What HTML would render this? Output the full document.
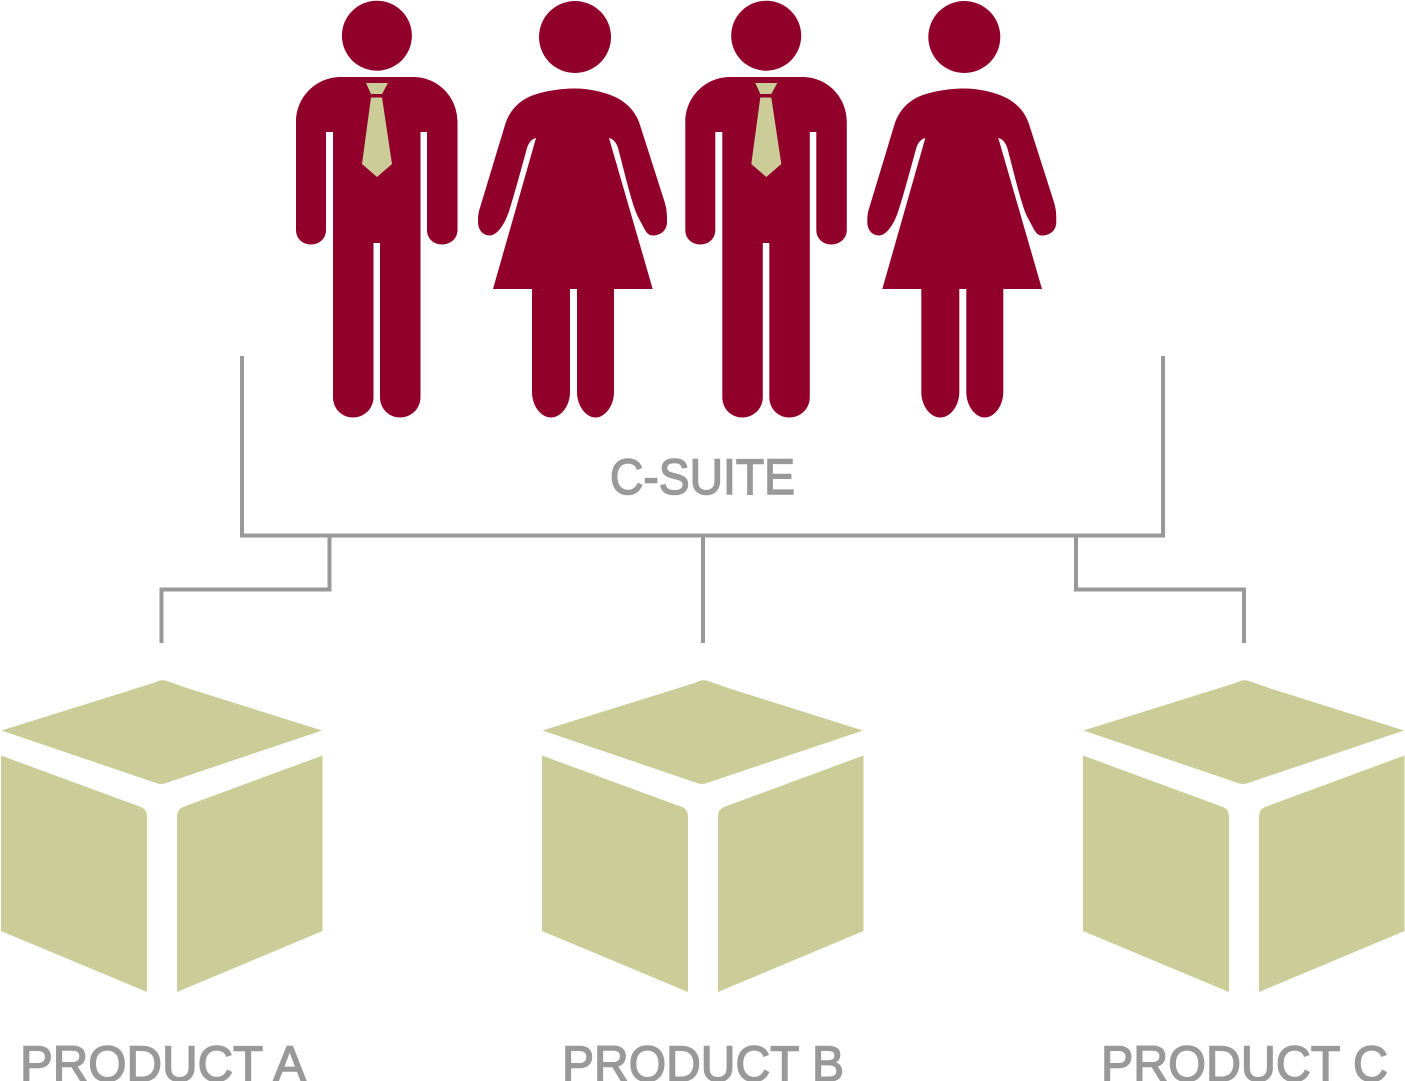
<!DOCTYPE html>
<html>
<head>
<meta charset="utf-8">
<style>
html,body{margin:0;padding:0;background:#fff;width:1405px;height:1081px;overflow:hidden}
svg{display:block}
text{font-family:"Liberation Sans",sans-serif;font-size:50px;fill:#999;stroke:#999;stroke-width:1.500px}
</style>
</head>
<body>
<svg width="1405" height="1081" viewBox="0 0 1405 1081" xmlns="http://www.w3.org/2000/svg">
<defs>
<g id="man">
<circle cx="376.900" cy="35.700" r="35"/>
<path d="M341 77H413C438 77 457.500 97 457.500 122V230C457.500 239 450 244.500 442 244.500C434 244.500 427 239 427 230V132H420.500V397C420.500 409 411 417.500 400 417.500C389 417.500 380 409 380 397V243H373.500V397C373.500 409 364 417.500 353 417.500C342 417.500 333 409 333 397V132H326V230C326 239 319 244.500 311 244.500C303 244.500 296 239 296 230V122C296 97 316 77 341 77Z"/>
</g>
<g id="tie" fill="#cccc99">
<polygon points="366,83 388,83 382,94 371,94"/>
<polygon points="371,97.500 382,97.500 392,164 377,177 362,164"/>
</g>
<g id="woman">
<circle cx="575" cy="37" r="36"/>
<path d="M575 88.500C590 88.500 603 92 613 96C627 102 636 112 640 125L664 200C667 209 667 214 667 222C667 231 660 235.500 653 235.500C646 235.500 645 229 638 217C632 205 624 170 618 148C616 142 613 139 609 138L652.700 289H614V392C614 406 605 417.500 595.500 417.500C586 417.500 577 406 577 392V289H570V392C570 406 561 417.500 551 417.500C541 417.500 532 406 532 392V289H493L536 138C532 139 529 142 527 148C521 170 515 192 510 208C505 225 497 235 490 235.500C483 235.500 478 230 478 222C478 218 478 215 479 211L505 125C509 112 517 102 531 96C541 92 558 88.500 575 88.500Z"/>
</g>
<g id="cube" fill="#cccc99">
<path d="M1.500 730.500L155 682.500Q161 679 167 681L190 689L322 730.500L166 783Q161 785 156 783Z"/>
<path d="M1 755.500L141 807Q147 809.500 147 817V992L1 931Z"/>
<path d="M322.500 755.500L183 807Q177 809.500 177 817V992L322.500 931Z"/>
</g>
</defs>

<g fill="#91002b">
<use href="#man"/>
<use href="#woman"/>
<use href="#man" x="389.300"/>
<use href="#woman" x="389.300"/>
</g>
<use href="#tie"/>
<use href="#tie" x="389.300"/>

<g fill="none" stroke="#999" stroke-width="4">
<polyline points="242,356 242,535.500 1163,535.500 1163,356"/>
<polyline points="329.500,535.500 329.500,589.500 161.500,589.500 161.500,643"/>
<line x1="703" y1="535.500" x2="703" y2="643"/>
<polyline points="1076,535.500 1076,589.500 1244,589.500 1244,643"/>
</g>

<use href="#cube"/>
<use href="#cube" x="541"/>
<use href="#cube" x="1082"/>

<text x="610" y="494" textLength="185" lengthAdjust="spacingAndGlyphs">C-SUITE</text>
<text x="20" y="1081" textLength="286" lengthAdjust="spacingAndGlyphs">PRODUCT A</text>
<text x="562" y="1081" textLength="282" lengthAdjust="spacingAndGlyphs">PRODUCT B</text>
<text x="1101" y="1081" textLength="287" lengthAdjust="spacingAndGlyphs">PRODUCT C</text>
</svg>
</body>
</html>
